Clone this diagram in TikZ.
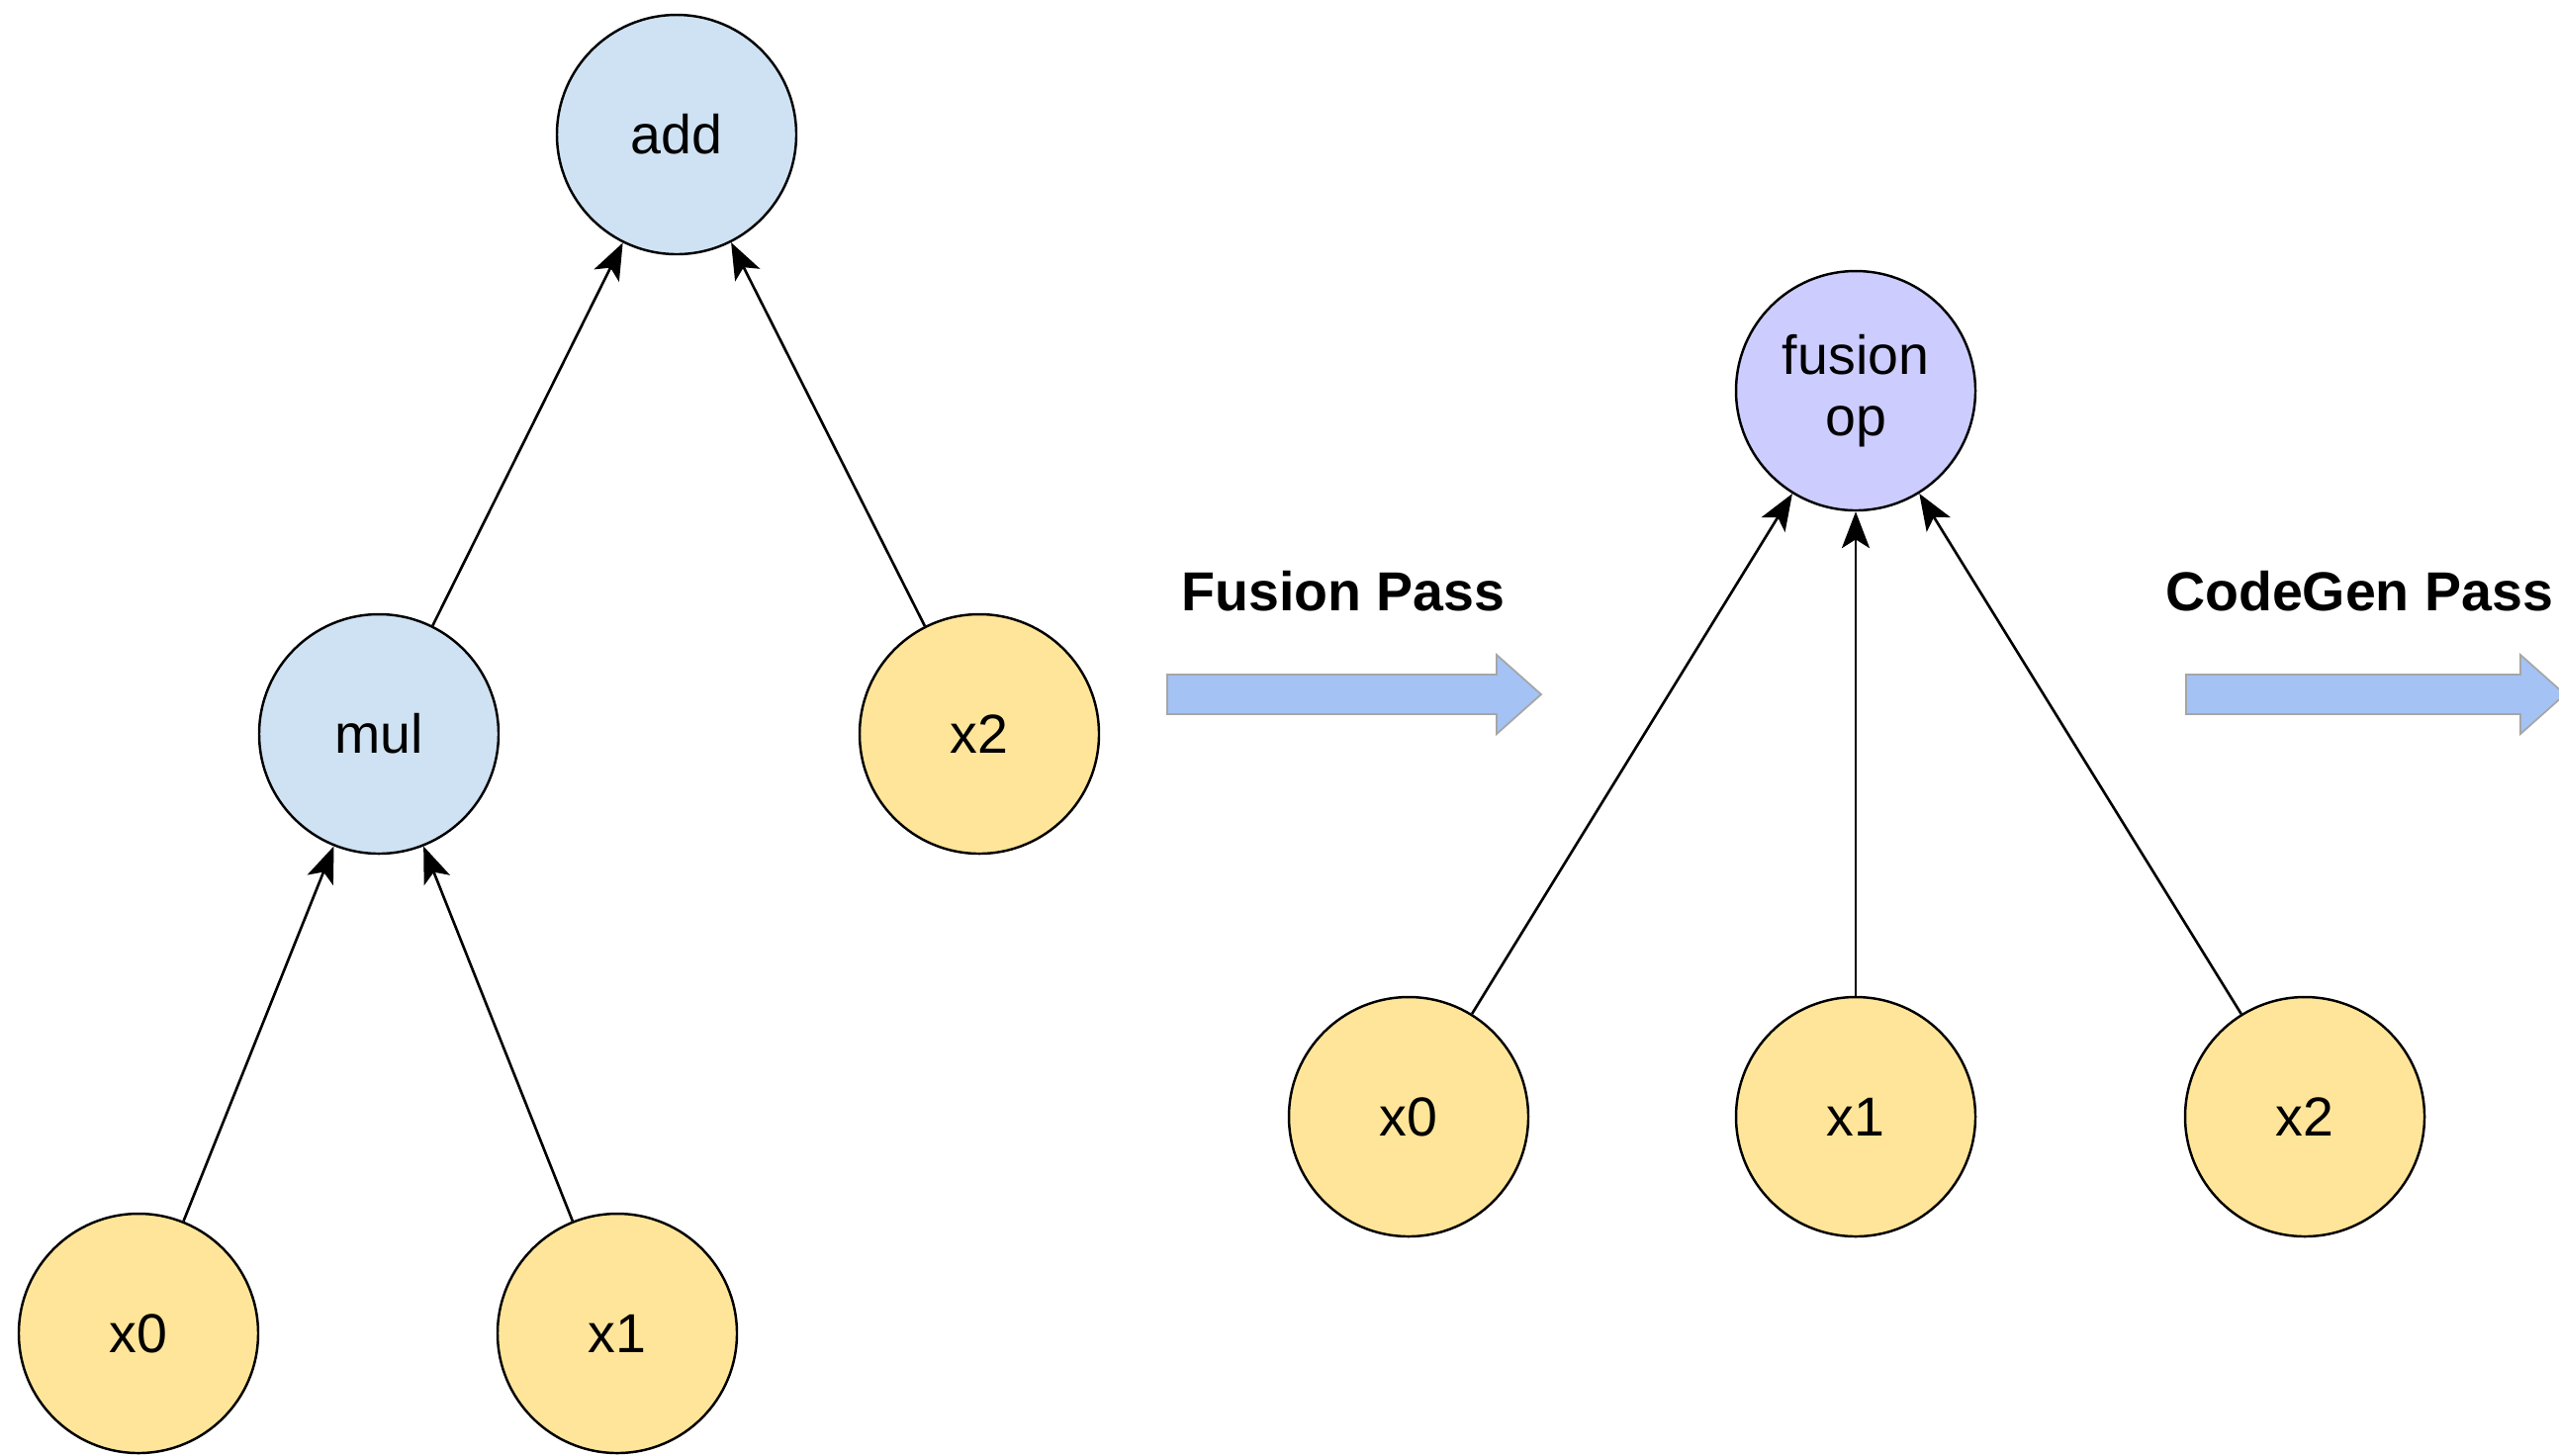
\documentclass[tikz,border=0pt]{standalone}
\usepackage{fontspec}
\setmainfont{Liberation Sans}
\usetikzlibrary{arrows.meta}

\definecolor{opblue}{HTML}{CFE2F3}
\definecolor{inyellow}{HTML}{FFE599}
\definecolor{fuseviolet}{HTML}{CCCCFF}
\definecolor{passblue}{HTML}{A4C2F4}

\begin{document}
\begin{tikzpicture}[
  every node/.style={font=\fontsize{15.8}{17.6}\selectfont},
  op/.style={circle,draw,line width=0.7pt,fill=opblue,minimum size=2.42cm,inner sep=0pt},
  input/.style={op,fill=inyellow},
  fused/.style={op,fill=fuseviolet,align=center},
  edge/.style={line width=0.75pt,-{Stealth[length=10.5pt,width=8pt,inset=2.5pt]}},
  passarrow/.style={fill=passblue,draw=black!35,line width=0.5pt},
  passlabel/.style={font=\fontsize{15.8}{17.6}\selectfont\bfseries}
]
  \useasboundingbox (0,0) rectangle (25.87,-14.71);

  % graph before fusion
  \node[op] (add) at (6.84,-1.36) {add};
  \node[op] (mul) at (3.83,-7.42) {mul};
  \node[input] (lx2) at (9.90,-7.42) {x2};
  \node[input] (lx0) at (1.40,-13.48) {x0};
  \node[input] (lx1) at (6.24,-13.48) {x1};

  \draw[edge] (mul) -- (add);
  \draw[edge] (lx2) -- (add);
  \draw[edge] (lx0) -- (mul);
  \draw[edge] (lx1) -- (mul);

  % fusion pass
  \node[passlabel] (fusepass) at (13.58,-5.98) {Fusion Pass};
  \filldraw[passarrow] (11.80,-6.82) -- (15.13,-6.82) -- (15.13,-6.62) -- (15.58,-7.02)
    -- (15.13,-7.42) -- (15.13,-7.22) -- (11.80,-7.22) -- cycle;

  % graph after fusion
  \node[fused] (fuse) at (18.76,-3.95) {fusion\\op};
  \node[input] (rx0) at (14.24,-11.29) {x0};
  \node[input] (rx1) at (18.76,-11.29) {x1};
  \node[input] (rx2) at (23.30,-11.29) {x2};

  \draw[edge] (rx0) -- (fuse);
  \draw[edge] (rx1) -- (fuse);
  \draw[edge] (rx2) -- (fuse);

  % codegen pass
  \node[passlabel] (genpass) at (23.85,-5.98) {CodeGen Pass};
  \filldraw[passarrow] (22.10,-6.82) -- (25.48,-6.82) -- (25.48,-6.62) -- (25.93,-7.02)
    -- (25.48,-7.42) -- (25.48,-7.22) -- (22.10,-7.22) -- cycle;

\end{tikzpicture}
\end{document}
